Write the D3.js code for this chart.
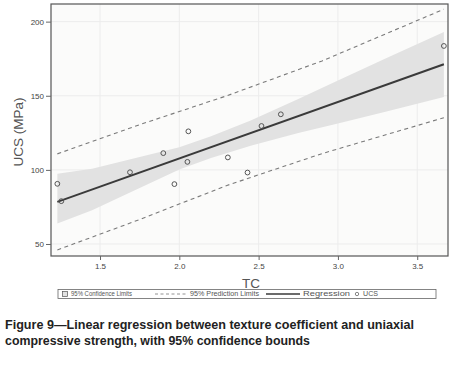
<!DOCTYPE html>
<html>
<head>
<meta charset="utf-8">
<script src="https://cdn.jsdelivr.net/npm/d3@7/dist/d3.min.js"></script>
<style>
  html, body { margin: 0; padding: 0; background: #fff; }
  svg { display: block; }
</style>
</head>
<body>
<div id="chart"></div>
<script>
// UCS observations
const tcValues = [1.231, 1.256, 1.689, 1.899, 1.969, 2.051, 2.057, 2.306, 2.43, 2.518, 2.64, 3.668]
const ucsValues = [90.6, 78.9, 98.4, 111.3, 90.4, 105.4, 126.0, 108.4, 98.2, 129.6, 137.5, 183.6]

// fitted regression line
const regX = [1.231, 3.668]
const regY = [78.4, 171.3]

// 95% confidence band
const bandX = [1.231, 1.45, 1.75, 2.0, 2.2, 2.45, 2.75, 3.0, 3.3, 3.668]
const bandUpper = [97.4, 100.7, 108.7, 115.2, 122.6, 133.3, 147.8, 160.3, 175.2, 193.0]
const bandLower = [63.8, 72.7, 87.7, 100.2, 108.0, 116.3, 124.8, 131.3, 139.2, 149.2]

// 95% prediction limits
const predX = [1.231, 1.75, 2.3, 2.9, 3.668]
const predUpper = [110.8, 130.5, 150.0, 173.5, 208.4]
const predLower = [46.0, 66.5, 89.5, 111.0, 135.2]

const xTicks = [1.5, 2.0, 2.5, 3.0, 3.5]
const yTicks = [50, 100, 150, 200]

const width = 459, height = 370
const plot = { left: 51, right: 448, top: 4, bottom: 256 }

const svg = d3.select("#chart").append("svg")
  .attr("width", width)
  .attr("height", height)
  .style("font-family", "'Liberation Sans', Arial, sans-serif")

const x = d3.scaleLinear().domain([1.191, 3.694]).range([plot.left, plot.right])
const y = d3.scaleLinear().domain([41.9, 211.9]).range([plot.bottom, plot.top])

// plot background
svg.append("rect")
  .attr("x", plot.left).attr("y", plot.top)
  .attr("width", plot.right - plot.left).attr("height", plot.bottom - plot.top)
  .attr("fill", "#fbfbfa")

// grid
const grid = svg.append("g")
grid.selectAll(".gx").data(xTicks).enter().append("line")
  .attr("x1", d => x(d)).attr("x2", d => x(d))
  .attr("y1", plot.top).attr("y2", plot.bottom)
  .attr("stroke", "#ececec").attr("stroke-width", 1)
grid.selectAll(".gy").data(yTicks).enter().append("line")
  .attr("x1", plot.left).attr("x2", plot.right)
  .attr("y1", d => y(d)).attr("y2", d => y(d))
  .attr("stroke", "#ececec").attr("stroke-width", 1)

// confidence band
const band = bandX.map((v, i) => ({ x: v, lo: bandLower[i], hi: bandUpper[i] }))
svg.append("path")
  .datum(band)
  .attr("d", d3.area().x(d => x(d.x)).y0(d => y(d.lo)).y1(d => y(d.hi)))
  .attr("fill", "#e2e2e2")

// prediction limits
const line = d3.line().x(d => x(d[0])).y(d => y(d[1]))
;[predUpper, predLower].forEach(arr => {
  svg.append("path")
    .datum(predX.map((v, i) => [v, arr[i]]))
    .attr("d", line)
    .attr("fill", "none")
    .attr("stroke", "#7a7a7a")
    .attr("stroke-width", 1.1)
    .attr("stroke-dasharray", "4 3.5")
})

// regression
svg.append("path")
  .datum(regX.map((v, i) => [v, regY[i]]))
  .attr("d", line)
  .attr("fill", "none")
  .attr("stroke", "#3a3a3a")
  .attr("stroke-width", 2)

// points
svg.append("g").selectAll("circle")
  .data(tcValues.map((v, i) => [v, ucsValues[i]]))
  .enter().append("circle")
  .attr("cx", d => x(d[0])).attr("cy", d => y(d[1]))
  .attr("r", 2.4)
  .attr("fill", "none")
  .attr("stroke", "#555")
  .attr("stroke-width", 1)

// frame
svg.append("rect")
  .attr("x", plot.left).attr("y", plot.top)
  .attr("width", plot.right - plot.left).attr("height", plot.bottom - plot.top)
  .attr("fill", "none").attr("stroke", "#555").attr("stroke-width", 1.2)

// axes
const xAxis = svg.append("g")
  .attr("transform", `translate(0,${plot.bottom})`)
  .call(d3.axisBottom(x).tickValues(xTicks).tickFormat(d3.format(".1f")).tickSize(4).tickPadding(3))
const yAxis = svg.append("g")
  .attr("transform", `translate(${plot.left},0)`)
  .call(d3.axisLeft(y).tickValues(yTicks).tickSize(5).tickPadding(2))
;[xAxis, yAxis].forEach(a => {
  a.select(".domain").remove()
  a.selectAll(".tick line").attr("stroke", "#666")
  a.selectAll("text").attr("fill", "#444").attr("font-size", 8)
    .style("font-family", "'Liberation Sans', Arial, sans-serif")
})

// axis titles
svg.append("text")
  .attr("x", 251).attr("y", 288)
  .attr("text-anchor", "middle")
  .attr("fill", "#555").attr("font-size", 13.5)
  .text("TC")
svg.append("text")
  .attr("transform", `translate(23,${(plot.top + plot.bottom) / 2 + 2}) rotate(-90)`)
  .attr("text-anchor", "middle")
  .attr("fill", "#555").attr("font-size", 13.5)
  .text("UCS (MPa)")

// legend
const lg = svg.append("g")
lg.append("rect")
  .attr("x", 58).attr("y", 289.5).attr("width", 378).attr("height", 9)
  .attr("fill", "#fff").attr("stroke", "#666").attr("stroke-width", 0.8)
const ly = 294
lg.append("rect").attr("x", 62.5).attr("y", ly - 2.5).attr("width", 5).attr("height", 5)
  .attr("fill", "#e2e2e2").attr("stroke", "#555").attr("stroke-width", 0.7)
lg.append("line").attr("x1", 155).attr("x2", 188).attr("y1", ly).attr("y2", ly)
  .attr("stroke", "#777").attr("stroke-width", 0.8).attr("stroke-dasharray", "3 2.5")
lg.append("line").attr("x1", 266).attr("x2", 300).attr("y1", ly).attr("y2", ly)
  .attr("stroke", "#3a3a3a").attr("stroke-width", 1.5)
lg.append("circle").attr("cx", 357).attr("cy", ly).attr("r", 1.7)
  .attr("fill", "none").attr("stroke", "#555").attr("stroke-width", 0.7)
const legendText = [
  { label: "95% Confidence Limits", x: 71, w: 61 },
  { label: "95% Prediction Limits", x: 190, w: 69 },
  { label: "Regression", x: 303, w: 47 },
  { label: "UCS", x: 363, w: 15 },
]
legendText.forEach(t => {
  lg.append("text").attr("x", t.x).attr("y", ly + 2.3)
    .attr("font-size", 6.6).attr("fill", "#555")
    .attr("textLength", t.w).attr("lengthAdjust", "spacingAndGlyphs")
    .text(t.label)
})

// caption
svg.append("text")
  .attr("x", 5).attr("y", 329)
  .attr("font-size", 13).attr("font-weight", "bold").attr("fill", "#222")
  .attr("textLength", 409).attr("lengthAdjust", "spacingAndGlyphs")
  .text("Figure 9\u2014Linear regression between texture coefficient and uniaxial")
svg.append("text")
  .attr("x", 5).attr("y", 345)
  .attr("font-size", 13).attr("font-weight", "bold").attr("fill", "#222")
  .attr("textLength", 305).attr("lengthAdjust", "spacingAndGlyphs")
  .text("compressive strength, with 95% confidence bounds")
</script>
</body>
</html>
